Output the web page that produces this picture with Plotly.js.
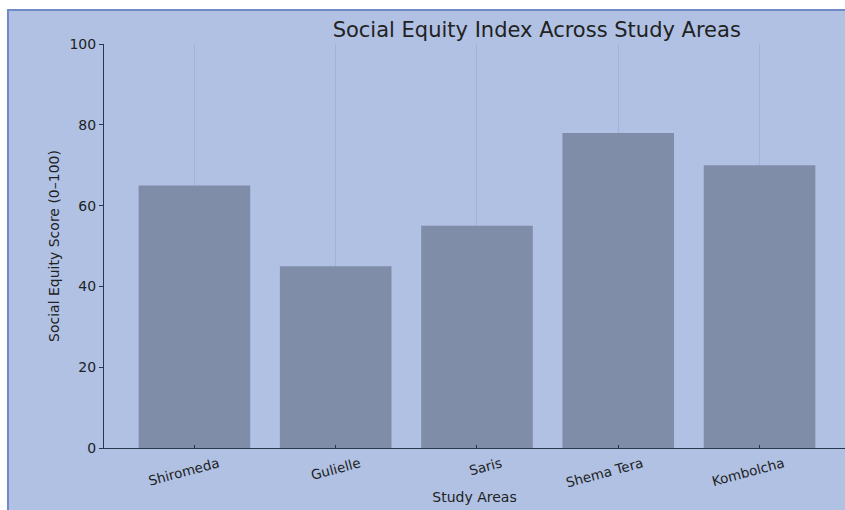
<!DOCTYPE html>
<html>
<head>
<meta charset="utf-8">
<script src="https://cdn.plot.ly/plotly-3.0.1.min.js"></script>
<style>html,body{margin:0;padding:0;background:#fff;}#chart{width:845px;height:510px;}</style>
</head>
<body>
<div id="chart"></div>
<script>
const categories = ["Shiromeda", "Gulielle", "Saris", "Shema Tera", "Kombolcha"];
const scores = [65, 45, 55, 78, 70];
const yTicks = [0, 20, 40, 60, 80, 100];

const font = "DejaVu Sans, sans-serif";
const trace = {
  type: "bar",
  x: categories,
  y: scores,
  width: 0.79,
  marker: {color: "#808da8", line: {width: 0}},
  hoverinfo: "skip"
};
const layout = {
  width: 845, height: 510,
  margin: {l: 104, r: 0, t: 44, b: 62},
  paper_bgcolor: "#ffffff",
  plot_bgcolor: "rgba(0,0,0,0)",
  showlegend: false,
  font: {family: font, color: "#222", size: 13},
  title: {text: "Social Equity Index Across Study Areas", font: {family: font, size: 21, color: "#222"},
          x: 0.584, xanchor: "center", xref: "paper", y: 0.941, yanchor: "middle", yref: "container"},
  xaxis: {
    type: "category", range: [-0.64, 4.605],
    showgrid: true, gridcolor: "rgba(145,162,205,0.45)", gridwidth: 1,
    showline: true, linecolor: "#2a3550", linewidth: 1,
    ticks: "inside", ticklen: 3, tickcolor: "#2a3550",
    tickangle: -15, tickfont: {family: font, size: 13.5, color: "#222"},
    ticklabelshift: 24, ticklabelstandoff: 2,
    title: {text: "Study Areas", font: {family: font, size: 14, color: "#222"}, standoff: 2},
    zeroline: false, fixedrange: true
  },
  yaxis: {
    range: [0, 100], tickvals: yTicks, ticktext: yTicks.map(String),
    showgrid: false, showline: true, linecolor: "#2a3550", linewidth: 1,
    ticks: "outside", ticklen: 4, tickcolor: "#2a3550",
    tickfont: {family: font, size: 14, color: "#222"},
    title: {text: "Social Equity Score (0\u2013100)", font: {family: font, size: 14, color: "#222"}, standoff: 6},
    zeroline: false, fixedrange: true
  },
  shapes: [{
    type: "rect", layer: "below", xref: "paper", yref: "paper",
    x0: -0.1296, x1: 1.02, y0: -0.2, y1: 1.0842,
    fillcolor: "#b0c1e4", line: {color: "#6f8ac4", width: 2}
  }]
};
Plotly.newPlot("chart", [trace], layout, {displayModeBar: false, staticPlot: true});
</script>
</body>
</html>
